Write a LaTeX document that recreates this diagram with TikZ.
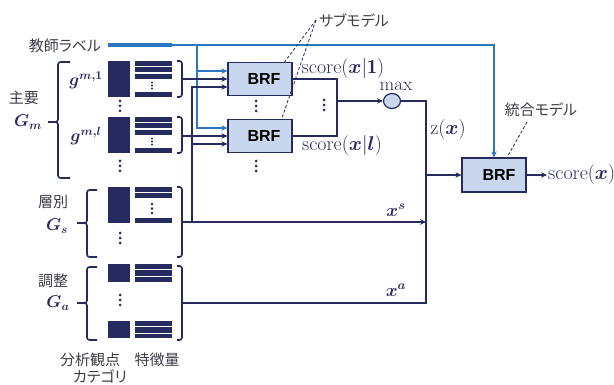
\RequirePackage{fix-cm}
\documentclass[tikz,border=0pt]{standalone}
\usepackage{bm}
\usepackage{fontspec}
\newfontfamily\jp[RawFeature=+palt]{Noto Sans CJK JP}
\newfontfamily\brffont{Liberation Sans}
\usetikzlibrary{arrows.meta,shapes.geometric}
\definecolor{navy}{HTML}{262A5E}
\definecolor{jgray}{HTML}{3C3C48}
\definecolor{tblue}{HTML}{2A78C2}
\definecolor{boxfill}{HTML}{C8D7EE}
\begin{document}
\begin{tikzpicture}[x=1pt,y=-1pt,
  conn/.style={navy, line width=1.4pt},
  arr/.style={conn, -{Stealth[length=6pt,width=5.5pt]}},
  barr/.style={tblue, line width=1.4pt, -{Stealth[length=6pt,width=5.5pt]}},
  brfbox/.style={draw=navy, line width=1.2pt, fill=boxfill, minimum width=64pt, minimum height=33pt, inner sep=0pt, font=\brffont\bfseries\fontsize{16}{18}\selectfont},
  jlab/.style={font=\jp\fontsize{15}{18}\selectfont, text=jgray, inner sep=0pt},
  mlab/.style={font=\fontsize{17}{20}\selectfont, text=navy, inner sep=0pt},
  slab/.style={font=\fontsize{20}{23}\selectfont, text=navy, inner sep=0pt},
  brk/.style={navy, line width=1.6pt, rounded corners=2.5pt},
  dsh/.style={navy, line width=0.8pt, dash pattern=on 3pt off 2pt},
  dotc/.style={fill=navy},
]
\useasboundingbox (0,0) rectangle (614,385);

% ---------- labels left ----------
\node[jlab] (teach) at (65,46) {教師ラベル};
\node[jlab] (shuyo) at (24,98) {主要};
\node[mlab] (Gm) at (28,122) {$\bm{G_m}$};
\node[mlab] (g1) at (86,80) {$\bm{g^{m,1}}$};
\node[mlab] (gl) at (86,136) {$\bm{g^{m,l}}$};
\node[jlab] (sobetsu) at (53,202) {層別};
\node[mlab] (Gs) at (57,226) {$\bm{G_s}$};
\node[jlab] (chosei) at (53,281) {調整};
\node[mlab] (Ga) at (58,303) {$\bm{G_a}$};
\node[jlab] (cat1) at (90,360) {分析観点};
\node[jlab] (cat2) at (100,376) {カテゴリ};
\node[jlab] (feat) at (157,360) {特徴量};

% ---------- left braces ----------
\draw[brk] (70,62) -- (58,62) -- (58,122) -- (48,122);
\draw[brk] (48,122) -- (58,122) -- (58,178) -- (70,178);
\draw[brk] (97,190) -- (87,190) -- (87,223) -- (77,223);
\draw[brk] (77,223) -- (87,223) -- (87,257) -- (97,257);
\draw[brk] (97,267) -- (87,267) -- (87,303) -- (77,303);
\draw[brk] (77,303) -- (87,303) -- (87,340) -- (97,340);

% ---------- blocks ----------
% g^{m,1}
\fill[navy] (108,61) rectangle (130,97);
\fill[navy] (135,61) rectangle (172,66);
\fill[navy] (135,67.5) rectangle (172,72.5);
\fill[navy] (135,74) rectangle (172,79);
\foreach \d in {82.5,85.5,88.5} \fill[dotc] (152,\d) circle (1.1);
\fill[navy] (135,92) rectangle (172,97);
% g^{m,l}
\fill[navy] (108,117) rectangle (130,153);
\fill[navy] (135,117) rectangle (172,122);
\fill[navy] (135,123.5) rectangle (172,128.5);
\fill[navy] (135,130) rectangle (172,135);
\foreach \d in {138.5,141.5,144.5} \fill[dotc] (152,\d) circle (1.1);
\fill[navy] (135,148) rectangle (172,153);
% G_s
\fill[navy] (108,187) rectangle (130,223);
\fill[navy] (135,187) rectangle (172,192);
\fill[navy] (135,193.5) rectangle (172,198);
\foreach \d in {204,208.5,213} \fill[dotc] (152,\d) circle (1.3);
\fill[navy] (135,218) rectangle (172,223);
% G_a
\fill[navy] (108,264) rectangle (130,282);
\fill[navy] (135,264) rectangle (172,269.3);
\fill[navy] (135,270.4) rectangle (172,275.7);
\fill[navy] (135,276.8) rectangle (172,282);
\fill[navy] (108,321) rectangle (130,338);
\fill[navy] (135,321) rectangle (172,326.2);
\fill[navy] (135,327.3) rectangle (172,332.6);
\fill[navy] (135,333.7) rectangle (172,338);

% vertical ellipses
\foreach \y in {106,166,238,300} {
  \foreach \d in {-5,0,5} \fill[dotc] (120,\y+\d) circle (1.5);
}
\foreach \y in {106,166} {
  \foreach \d in {-5,0,5} \fill[dotc] (256,\y+\d) circle (1.5);
}
\foreach \d in {-5,0,5} \fill[dotc] (324,105+\d) circle (1.5);

% right brackets
\draw[brk] (177,61) -- (182,61) -- (182,97) -- (177,97);
\draw[brk] (177,117) -- (182,117) -- (182,153) -- (177,153);
\draw[brk] (177,187) -- (182,187) -- (182,257) -- (177,257);
\draw[brk] (177,266) -- (182,266) -- (182,340) -- (177,340);
\coordinate (g1o) at (182,79);
\coordinate (glo) at (182,136);
\coordinate (gso) at (182,222);
\coordinate (gao) at (182,303);

% ---------- BRF boxes ----------
\node[brfbox] (b1) at (260,79) {\hspace*{8pt}BRF};
\node[brfbox] (b2) at (260,136) {\hspace*{8pt}BRF};
\node[brfbox, minimum height=34pt] (fb) at (494,175) {\hspace*{10pt}BRF};
\node[draw=navy, line width=1.2pt, fill=boxfill, ellipse, minimum width=17pt, minimum height=15pt, inner sep=0pt] (mx) at (392,101) {};

\coordinate (b1hi) at ([yshift=8pt]b1.west);
\coordinate (b1lo) at ([yshift=-8pt]b1.west);
\coordinate (b2hi) at ([yshift=8pt]b2.west);
\coordinate (b2lo) at ([yshift=-8pt]b2.west);

% ---------- teacher label (blue) ----------
\coordinate (t0) at (108,45);
\coordinate (t1) at (172,45);
\coordinate (bj) at (197,45);
\draw[tblue, line width=4pt] (t0) -- (t1);
\draw[barr] (t1) -| (fb.north);
\draw[barr] (bj) |- (b2hi);
\draw[barr] (bj |- b1hi) -- (b1hi);

% ---------- inputs to sub models ----------
\coordinate (vj) at (192,222);
\draw[arr] (g1o) -- (b1.west);
\draw[arr] (glo) -- (b2.west);
\draw[arr] (vj) |- (b1lo);
\draw[arr] (vj |- b2lo) -- (b2lo);

% ---------- outputs ----------
\coordinate (oj) at (337,101);
\draw[conn] (b1.east) -| (oj) |- (b2.east);
\draw[arr] (oj) -- (mx.west);
\coordinate (zj) at (426,175);
\draw[conn] (mx.east) -| (zj);
\draw[conn] (gao) -| (zj);
\draw[arr] (gso) -- (gso -| zj);
\draw[arr] (zj) -- (fb.west);
\coordinate (fo) at (547,175);
\draw[arr] (fb.east) -- (fo);

% ---------- output labels ----------
\node[slab] (s1) at (343,69) {$\mathrm{score}(\bm{x}|\mathbf{1})$};
\node[slab] (sl) at (342,146) {$\mathrm{score}(\bm{x}|\bm{l})$};
\node[mlab, font=\fontsize{19}{22}\selectfont] (maxl) at (396,86) {$\mathrm{max}$};
\node[slab] (zx) at (448,130) {$\mathrm{z}(\bm{x})$};
\node[mlab, font=\fontsize{18}{21}\selectfont] (xs) at (396,210) {$\bm{x^s}$};
\node[mlab, font=\fontsize{18}{21}\selectfont] (xa) at (396,290) {$\bm{x^a}$};
\node[slab, anchor=west] (sx) at (548,175) {$\mathrm{score}(\bm{x})$};

% ---------- annotations ----------
\node[jlab] (sub) at (354,21) {サブモデル};
\coordinate (sp) at (316,20);
\draw[dsh] (sp) -- ([xshift=-8pt]b1.north east);
\draw[dsh] (sp) -- ([xshift=-11pt]b2.north east);
\node[jlab] (intg) at (541,110) {統合モデル};
\draw[dsh] (527,122) -- ([xshift=13pt]fb.north);
\end{tikzpicture}
\end{document}
